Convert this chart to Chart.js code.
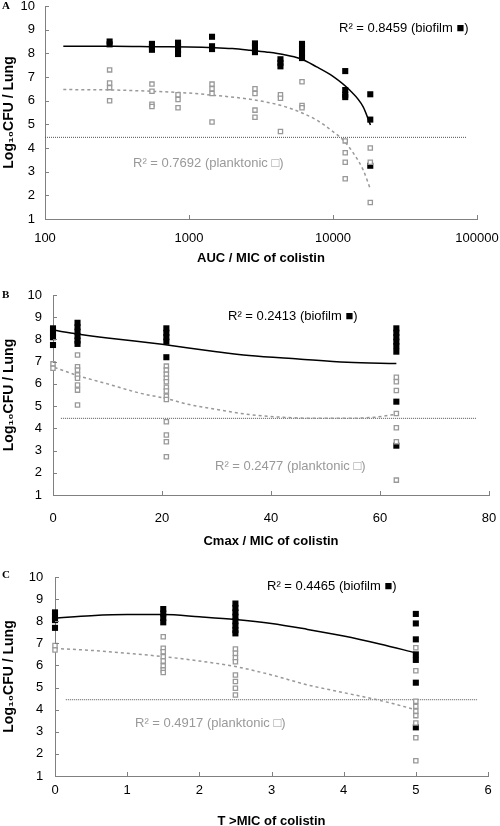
<!DOCTYPE html>
<html>
<head>
<meta charset="utf-8">
<script src="https://cdn.jsdelivr.net/npm/chart.js@4.4.1/dist/chart.umd.min.js"></script>
<style>
  html, body { margin: 0; padding: 0; background: #fff; overflow: hidden; }
  canvas { position: absolute; left: 0; }
</style>
</head>
<body>
<canvas id="chartA" width="500" height="270" style="top:0px"></canvas>
<canvas id="chartB" width="500" height="280" style="top:270px"></canvas>
<canvas id="chartC" width="500" height="280" style="top:550px"></canvas>
<script>
// ---- data ----
const yTicks = [1, 2, 3, 4, 5, 6, 7, 8, 9, 10];
const detectionLimit = 4.45;

// A: AUC / MIC (log axis)
const aucTicks = [100, 1000, 10000, 100000];
const aucGroups = [281, 553, 839, 1445, 2872, 4316, 6092, 12160, 18150];
const aucBiofilm = [
  [8.5, 8.38], [8.4, 8.28, 8.15], [8.45, 8.3, 8.15, 7.97], [8.7, 8.3, 8.18],
  [8.42, 8.25, 8.05], [7.75, 7.6, 7.45], [8.4, 8.2, 8.0, 7.8],
  [7.25, 6.45, 6.25, 6.15], [6.27, 5.2, 3.25]
];
const aucPlanktonic = [
  [7.3, 6.75, 6.55, 6.0], [6.7, 6.4, 5.85, 5.75], [6.25, 6.05, 5.7], [6.7, 6.5, 6.3, 5.1],
  [6.5, 6.3, 5.6, 5.3], [6.25, 6.1, 4.7], [6.8, 5.8, 5.7],
  [4.3, 3.8, 3.4, 2.7], [4.0, 3.4, 1.7]
];
const aucBiofilmFitX = [134, 300, 600, 1000, 1500, 2000, 2650, 3500, 4520, 5900, 7700, 10000, 13100, 16200, 18200];
const aucBiofilmFitY = [8.3, 8.3, 8.28, 8.27, 8.24, 8.2, 8.13, 8.05, 7.95, 7.78, 7.43, 7.03, 6.44, 5.74, 4.97];
const aucPlankFitX = [134, 300, 535, 1000, 1470, 2650, 4520, 6220, 7700, 10000, 11800, 13900, 16200, 18200];
const aucPlankFitY = [6.47, 6.45, 6.4, 6.32, 6.23, 6.06, 5.77, 5.46, 5.18, 4.69, 4.33, 3.77, 3.07, 2.25];
const aucLimitX = [100, 85000];

// B: Cmax / MIC
const cmaxTicks = [0, 20, 40, 60, 80];
const cmaxGroups = [0, 4.5, 20.8, 63];
const cmaxBiofilm = [
  [8.5, 8.3, 8.1, 7.75],
  [8.75, 8.55, 8.35, 8.15, 7.95, 7.8],
  [8.5, 8.3, 8.1, 7.9, 7.2],
  [8.5, 8.3, 8.1, 7.9, 7.7, 7.45, 5.2, 3.22]
];
const cmaxPlanktonic = [
  [6.9, 6.7],
  [7.3, 6.77, 6.62, 6.4, 6.25, 5.95, 5.72, 5.05],
  [6.8, 6.62, 6.43, 6.25, 6.1, 5.85, 5.68, 5.45, 5.3, 4.3, 3.7, 3.4, 2.72],
  [6.3, 6.1, 5.7, 4.67, 4.03, 3.4, 1.67]
];
const cmaxBiofilmFitX = [0, 4.5, 10, 20, 30, 36, 45, 54, 63];
const cmaxBiofilmFitY = [8.42, 8.25, 8.07, 7.78, 7.45, 7.28, 7.12, 6.97, 6.92];
const cmaxPlankFitX = [0.3, 4.6, 10, 16, 20.6, 25, 30, 36, 42, 48, 54, 59, 63.4];
const cmaxPlankFitY = [6.74, 6.37, 6.0, 5.58, 5.35, 5.07, 4.85, 4.62, 4.5, 4.45, 4.45, 4.5, 4.65];
const cmaxLimitX = [1.45, 77.6];

// C: T > MIC
const tTicks = [0, 1, 2, 3, 4, 5, 6];
const tGroups = [0, 1.5, 2.5, 5];
const tBiofilm = [
  [8.4, 8.2, 8.05, 7.7],
  [8.55, 8.35, 8.15, 7.95],
  [8.8, 8.6, 8.4, 8.2, 8.0, 7.8, 7.6, 7.45],
  [8.33, 7.9, 7.18, 6.5, 6.25, 5.22, 3.2]
];
const tPlanktonic = [
  [6.9, 6.7],
  [7.3, 6.78, 6.62, 6.4, 6.2, 5.98, 5.8, 5.68],
  [6.74, 6.55, 6.35, 6.17, 5.57, 5.27, 4.97, 4.66],
  [6.8, 5.76, 4.38, 4.15, 3.93, 3.73, 3.4, 2.73, 1.69]
];
const tBiofilmFitX = [0, 0.5, 1, 1.5, 2, 2.5, 3, 3.5, 4, 4.5, 5];
const tBiofilmFitY = [8.15, 8.25, 8.3, 8.3, 8.2, 8.08, 7.9, 7.63, 7.33, 6.97, 6.57];
const tPlankFitX = [0, 0.5, 1, 1.5, 2, 2.5, 3, 3.5, 4, 4.5, 5];
const tPlankFitY = [6.77, 6.68, 6.55, 6.4, 6.2, 5.95, 5.57, 5.12, 4.77, 4.42, 4.0];
const tLimitX = [0.15, 5.86];

// ---- styling ----
const family = "'Liberation Sans', Arial, sans-serif";
const axisColor = '#808080';
const plankColor = '#999999';

function groupPoints(groups, values) {
  return groups.flatMap((x, i) => values[i].map(y => ({ x, y })));
}
function curve(xs, ys) {
  return xs.map((x, i) => ({ x, y: ys[i] }));
}

const decor = {
  id: 'decor',
  afterDraw(chart, args, opts) {
    const ctx = chart.ctx;
    const { x, y } = chart.scales;
    const area = chart.chartArea;
    ctx.save();
    // inside tick marks
    ctx.strokeStyle = axisColor;
    ctx.lineWidth = 1;
    ctx.beginPath();
    x.ticks.forEach(t => {
      const px = Math.round(x.getPixelForValue(t.value)) + 0.5;
      ctx.moveTo(px, area.bottom);
      ctx.lineTo(px, area.bottom - 4);
    });
    y.ticks.forEach(t => {
      const py = Math.round(y.getPixelForValue(t.value)) + 0.5;
      ctx.moveTo(area.left, py);
      ctx.lineTo(area.left + 4, py);
    });
    ctx.stroke();
    // panel letter
    ctx.fillStyle = '#000';
    ctx.textBaseline = 'middle';
    ctx.textAlign = 'left';
    ctx.font = "bold 11px 'Liberation Serif', 'Times New Roman', serif";
    ctx.fillText(opts.letter, 2, opts.letterY);
    // R² notes
    ctx.font = '13px ' + family;
    opts.notes.forEach(n => {
      ctx.fillStyle = n.color;
      ctx.fillText(n.text, n.x, n.y);
    });
    ctx.restore();
  }
};

function makeChart(id, p) {
  const datasets = [
    {
      label: 'planktonic',
      data: groupPoints(p.groups, p.plank),
      pointStyle: 'rect', pointRadius: 3,
      backgroundColor: '#fff', borderColor: plankColor, borderWidth: 1.3,
      showLine: false, clip: false
    },
    {
      label: 'biofilm',
      data: groupPoints(p.groups, p.bio),
      pointStyle: 'rect', pointRadius: 4.3,
      backgroundColor: '#000', borderColor: '#000', borderWidth: 0,
      showLine: false, clip: false
    },
    {
      label: 'biofilm fit',
      data: curve(p.bioFitX, p.bioFitY),
      showLine: true, pointRadius: 0, borderColor: '#000', borderWidth: 1.5,
      cubicInterpolationMode: 'monotone', fill: false
    },
    {
      label: 'planktonic fit',
      data: curve(p.plankFitX, p.plankFitY),
      showLine: true, pointRadius: 0, borderColor: plankColor, borderWidth: 1.5,
      borderDash: [3, 3], cubicInterpolationMode: 'monotone', fill: false
    },
    {
      label: 'limit',
      data: p.limitX.map(x => ({ x, y: detectionLimit })),
      showLine: true, pointRadius: 0, borderColor: '#555', borderWidth: 1,
      borderDash: [1, 1], fill: false
    }
  ];

  return new Chart(document.getElementById(id), {
    type: 'scatter',
    data: { datasets },
    options: {
      responsive: false,
      animation: false,
      devicePixelRatio: 1,
      events: [],
      layout: { padding: { left: 0, right: 500 - p.right, top: p.top, bottom: 0 } },
      plugins: {
        legend: { display: false },
        tooltip: { enabled: false },
        decor: { letter: p.letter, letterY: p.letterY, notes: p.notes }
      },
      scales: {
        x: {
          type: p.xType,
          min: p.xTicks[0],
          max: p.xTicks[p.xTicks.length - 1],
          afterBuildTicks: s => { s.ticks = p.xTicks.map(v => ({ value: v })); },
          afterFit: s => { s.height = p.H - p.bottom; s.paddingLeft = 0; s.paddingRight = 0; },
          grid: { display: false, drawTicks: false },
          border: { display: true, color: axisColor, width: 1 },
          ticks: {
            callback: v => String(v),
            color: '#000', font: { size: 13, family },
            padding: p.xPad, maxRotation: 0, autoSkip: false
          },
          title: {
            display: true, text: p.xTitle, color: '#000',
            font: { size: 13, weight: 'bold', family },
            padding: { top: 0, bottom: p.titlePad }
          }
        },
        y: {
          min: 1, max: 10,
          afterBuildTicks: s => { s.ticks = yTicks.map(v => ({ value: v })); },
          afterFit: s => { s.width = p.left; s.paddingTop = 0; s.paddingBottom = 0; },
          grid: { display: false, drawTicks: false },
          border: { display: true, color: axisColor, width: 1 },
          ticks: { color: '#000', font: { size: 13, family }, padding: p.yPad },
          title: {
            display: true, text: 'Log₁₀CFU / Lung', color: '#000',
            font: { size: 14, weight: 'bold', family },
            padding: { top: 1, bottom: 0 }
          }
        }
      }
    },
    plugins: [decor]
  });
}

makeChart('chartA', {
  H: 270, left: 45, right: 477, top: 6, bottom: 219,
  xPad: 12, yPad: 10, titlePad: 4,
  xType: 'logarithmic', xTicks: aucTicks, xTitle: 'AUC / MIC of colistin',
  groups: aucGroups, bio: aucBiofilm, plank: aucPlanktonic,
  bioFitX: aucBiofilmFitX, bioFitY: aucBiofilmFitY,
  plankFitX: aucPlankFitX, plankFitY: aucPlankFitY, limitX: aucLimitX,
  letter: 'A', letterY: 6,
  notes: [
    { text: 'R² = 0.8459 (biofilm ■)', x: 339, y: 28, color: '#000' },
    { text: 'R² = 0.7692 (planktonic □)', x: 133, y: 163, color: plankColor }
  ]
});

makeChart('chartB', {
  H: 280, left: 53, right: 489, top: 25, bottom: 225,
  xPad: 15.5, yPad: 11, titlePad: 0.5,
  xType: 'linear', xTicks: cmaxTicks, xTitle: 'Cmax / MIC of colistin',
  groups: cmaxGroups, bio: cmaxBiofilm, plank: cmaxPlanktonic,
  bioFitX: cmaxBiofilmFitX, bioFitY: cmaxBiofilmFitY,
  plankFitX: cmaxPlankFitX, plankFitY: cmaxPlankFitY, limitX: cmaxLimitX,
  letter: 'B', letterY: 25,
  notes: [
    { text: 'R² = 0.2413 (biofilm ■)', x: 228, y: 46.7, color: '#000' },
    { text: 'R² = 0.2477 (planktonic □)', x: 215, y: 196.7, color: plankColor }
  ]
});

makeChart('chartC', {
  H: 280, left: 55, right: 488, top: 27, bottom: 226,
  xPad: 6.5, yPad: 11.7, titlePad: 1.2,
  xType: 'linear', xTicks: tTicks, xTitle: 'T >MIC of colistin',
  groups: tGroups, bio: tBiofilm, plank: tPlanktonic,
  bioFitX: tBiofilmFitX, bioFitY: tBiofilmFitY,
  plankFitX: tPlankFitX, plankFitY: tPlankFitY, limitX: tLimitX,
  letter: 'C', letterY: 24.7,
  notes: [
    { text: 'R² = 0.4465 (biofilm ■)', x: 267, y: 36.7, color: '#000' },
    { text: 'R² = 0.4917 (planktonic □)', x: 135, y: 173, color: plankColor }
  ]
});
</script>
</body>
</html>
